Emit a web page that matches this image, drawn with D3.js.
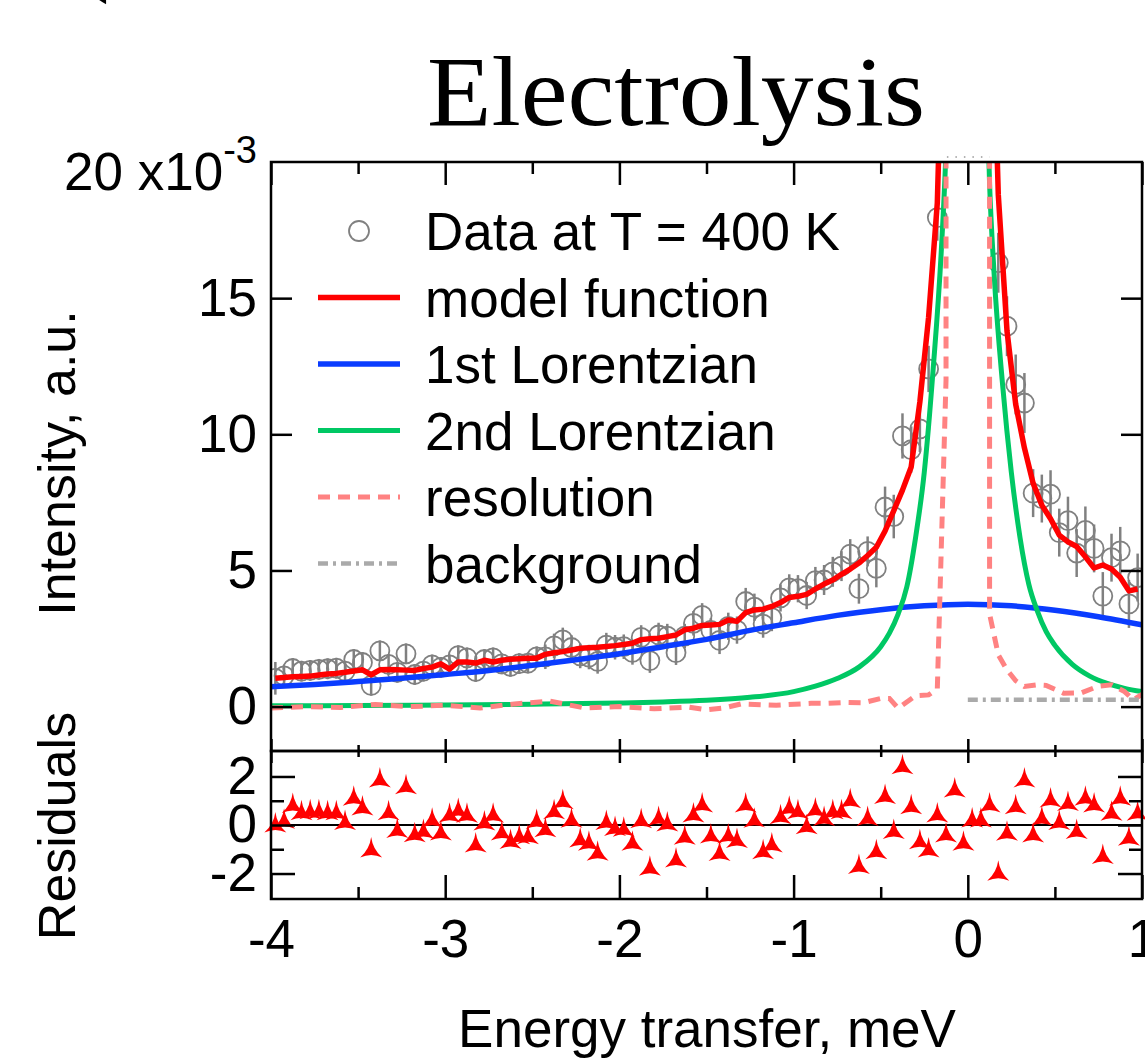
<!DOCTYPE html>
<html><head><meta charset="utf-8">
<script src="https://cdn.jsdelivr.net/npm/d3@7"></script>
<style>body{margin:0;background:#fff;} svg{display:block;}</style>
</head><body>
<svg id="chart" width="1145" height="1061"></svg>
<script>
// ---------- data ----------
const energyX = [
-3.975,-3.925,-3.875,-3.825,-3.775,-3.725,-3.675,-3.625,-3.575,-3.525,
-3.475,-3.425,-3.375,-3.325,-3.275,-3.225,-3.175,-3.125,-3.075,-3.025,
-2.975,-2.925,-2.875,-2.825,-2.775,-2.725,-2.675,-2.625,-2.575,-2.525,
-2.475,-2.425,-2.375,-2.325,-2.275,-2.225,-2.175,-2.125,-2.075,-2.025,
-1.975,-1.925,-1.875,-1.825,-1.775,-1.725,-1.675,-1.625,-1.575,-1.525,
-1.475,-1.425,-1.375,-1.325,-1.275,-1.225,-1.175,-1.125,-1.075,-1.025,
-0.975,-0.925,-0.875,-0.825,-0.775,-0.725,-0.675,-0.625,-0.575,-0.525,
-0.475,-0.425,-0.375,-0.325,-0.275,-0.225,-0.175,-0.125,-0.075,-0.025,
0.025,0.075,0.125,0.175,0.225,0.275,0.325,0.375,0.425,0.475,
0.525,0.575,0.625,0.675,0.725,0.775,0.825,0.875,0.925,0.975];
const intensity = [
1.04,1.13,1.40,1.30,1.33,1.37,1.39,1.41,1.30,1.73,
1.62,0.78,2.05,1.55,1.26,1.94,1.18,1.30,1.53,1.44,
1.53,1.87,1.79,1.29,1.73,1.79,1.57,1.48,1.58,1.60,
1.83,1.83,2.23,2.45,2.17,1.86,1.82,1.66,2.26,2.18,
2.20,1.99,2.54,1.69,2.63,2.59,1.98,2.59,3.06,3.35,
2.80,2.43,2.95,2.81,3.86,3.65,3.03,3.27,3.99,4.36,
4.33,4.08,4.63,4.65,4.95,5.16,5.60,4.33,5.70,5.08,
7.33,6.98,9.94,9.44,10.2,12.4,17.96,29.6,47.2,54.0,
55.3,45.3,31.0,16.3,13.97,11.83,11.15,7.84,7.64,7.80,
6.39,6.83,5.64,6.47,5.81,4.06,5.47,5.72,3.77,4.74];
const intensityErr = [
0.60,0.38,0.38,0.38,0.38,0.38,0.38,0.38,0.38,0.38,
0.38,0.38,0.38,0.38,0.38,0.38,0.38,0.38,0.38,0.38,
0.38,0.38,0.38,0.38,0.38,0.38,0.38,0.38,0.38,0.38,
0.38,0.45,0.45,0.45,0.45,0.45,0.45,0.45,0.45,0.45,
0.45,0.45,0.45,0.45,0.45,0.45,0.45,0.45,0.45,0.45,
0.45,0.50,0.50,0.50,0.50,0.50,0.50,0.50,0.50,0.50,
0.50,0.50,0.50,0.55,0.55,0.55,0.55,0.55,0.55,0.70,
0.75,0.80,0.83,0.85,0.85,0.85,0.85,1.00,1.00,1.00,
1.00,1.00,1.00,1.10,1.10,1.10,1.10,0.88,0.88,0.88,
0.88,0.88,0.88,0.88,0.88,0.88,0.88,0.88,0.88,0.88];
const modelFunction = [
1.04,1.07,1.10,1.11,1.12,1.16,1.20,1.22,1.26,1.31,
1.35,1.17,1.35,1.36,1.35,1.34,1.33,1.40,1.45,1.57,
1.38,1.64,1.64,1.60,1.70,1.64,1.70,1.74,1.76,1.78,
1.78,1.92,1.98,2.02,2.08,2.14,2.16,2.18,2.21,2.24,
2.28,2.33,2.46,2.49,2.51,2.57,2.63,2.82,2.88,2.98,
3.00,3.02,3.18,3.13,3.45,3.55,3.58,3.68,3.82,4.01,
4.05,4.12,4.32,4.50,4.65,4.86,5.05,5.27,5.55,5.85,
6.45,7.20,7.95,8.80,11.2,14.3,18.5,30.0,45.0,55.0,
55.0,45.0,30.0,18.8,13.8,11.1,9.50,8.20,7.40,6.90,
6.30,6.05,5.88,5.50,5.09,5.20,5.05,4.75,4.25,4.32];
const residuals = [
0.0,0.15,0.8,0.5,0.55,0.55,0.5,0.5,0.1,1.1,
0.7,-1.03,1.85,0.5,-0.23,1.58,-0.4,-0.27,0.2,-0.33,
0.4,0.6,0.4,-0.82,0.08,0.4,-0.33,-0.68,-0.48,-0.48,
0.14,-0.2,0.55,0.96,0.2,-0.62,-0.75,-1.16,0.1,-0.14,
-0.18,-0.75,0.18,-1.78,0.27,0.04,-1.44,-0.51,0.41,0.82,
-0.45,-1.17,-0.45,-0.64,0.82,0.2,-1.1,-0.82,0.34,0.69,
0.55,-0.07,0.62,0.27,0.55,0.55,1.0,-1.71,0.27,-1.1,
1.17,-0.27,2.4,0.75,-0.69,-1.03,0.41,-0.41,1.44,-0.75,
0.21,0.21,0.82,-1.99,-0.34,0.75,1.85,-0.41,0.27,1.03,
0.1,0.89,-0.27,1.1,0.82,-1.3,0.48,1.1,-0.55,0.48];
const lor1X = [-4,-3.75,-3.5,-3.25,-3,-2.75,-2.5,-2.25,-2,-1.75,-1.5,-1.25,-1,-0.75,-0.5,-0.25,0,0.25,0.5,0.75,1];
const lor1Y = [0.73,0.81,0.92,1.04,1.18,1.33,1.52,1.72,1.94,2.20,2.47,2.80,3.08,3.35,3.56,3.70,3.76,3.70,3.54,3.30,3.00];
const lor2X = [-4,-3.5,-3,-2.5,-2,-1.75,-1.5,-1.25,-1,-0.875,-0.75,-0.625,-0.5,-0.45,-0.4,-0.35,-0.3,-0.25,-0.2,-0.15,-0.125,-0.1,-0.05,0,0.05,0.1,0.125,0.15,0.2,0.25,0.3,0.35,0.4,0.45,0.5,0.6,0.7,0.8,0.9,1.0];
const lor2Y = [0.03,0.04,0.06,0.09,0.13,0.17,0.23,0.34,0.55,0.75,1.03,1.45,2.2,2.7,3.4,4.4,6.2,8.6,12.3,17,20.5,27,38,42,38,25,19.2,16,11.8,8.6,6.2,4.5,3.5,2.75,2.25,1.55,1.12,0.85,0.67,0.55];
const resX = [-4,-3.8,-3.6,-3.4,-3.2,-3.0,-2.8,-2.6,-2.4,-2.2,-2.0,-1.8,-1.6,-1.5,-1.4,-1.3,-1.1,-0.9,-0.8,-0.7,-0.6,-0.5,-0.45,-0.4,-0.3,-0.225,-0.175,-0.125,-0.124,0.124,0.125,0.175,0.225,0.275,0.325,0.4,0.45,0.55,0.65,0.75,0.825,0.9,0.95,1.0];
const resY = [-0.05,0.0,-0.03,0.08,0.0,0.05,-0.05,0.1,0.2,-0.05,0.0,-0.08,-0.02,-0.12,-0.05,0.1,0.05,0.12,0.12,0.15,0.14,0.3,0.3,-0.06,0.4,0.43,0.65,12.0,400,400,3.4,1.9,1.35,0.95,0.74,0.8,0.78,0.49,0.5,0.75,0.8,0.55,0.25,0.45];
const bgX = [0, 1];
const bgY = [0.25, 0.25];
const xTicks = [-4,-3,-2,-1,0,1];
const xMinor = [-3.5,-2.5,-1.5,-0.5,0.5];
const yTicks = [0,5,10,15];
const resTicks = [-2,0,2];
const resMinor = [-1,1];
const legendLabels = ["Data at T = 400 K","model function","1st Lorentzian","2nd Lorentzian","resolution","background"];

// ---------- layout ----------
const FONT = "'Liberation Sans', Arial, Helvetica, sans-serif";
const SERIF = "'Liberation Serif', 'Times New Roman', serif";
const FS = 53;
const L = 271, R = 1142, T = 162, MB = 751, RB = 899;
const COL = {red:"#ff0000", blue:"#0a3cff", green:"#00c864", pink:"#ff8282", gray:"#aaaaaa", data:"#808080"};

const svg = d3.select("#chart");
const x = d3.scaleLinear().domain([-4, 1]).range([L, R]);
const y = d3.scaleLinear().domain([-1.63, 20]).range([MB, T]);
const yr = d3.scaleLinear().domain([-3.05, 3.05]).range([RB, MB]);

const defs = svg.append("defs");
defs.append("clipPath").attr("id","clipMain").append("rect").attr("x",L).attr("y",T).attr("width",R-L).attr("height",MB-T);
defs.append("clipPath").attr("id","clipRes").append("rect").attr("x",L).attr("y",MB).attr("width",R-L).attr("height",RB-MB);

// title
svg.append("text").attr("x",427).attr("y",125)
  .attr("font-family",SERIF).attr("font-size",100).attr("fill","#000")
  .attr("textLength",498).attr("lengthAdjust","spacingAndGlyphs").text("Electrolysis");
svg.append("text").attr("x",76).attr("y",-17).attr("font-family",SERIF).attr("font-size",100).attr("fill","#000").text("(");

// ---------- main plot ----------
const gMain = svg.append("g").attr("clip-path","url(#clipMain)");
const pts = energyX.map((e,i)=>({x:e, v:intensity[i], err:intensityErr[i]}));
gMain.selectAll("line.err").data(pts).join("line").attr("class","err")
  .attr("x1",d=>x(d.x)).attr("x2",d=>x(d.x))
  .attr("y1",d=>y(d.v-d.err)).attr("y2",d=>y(d.v+d.err))
  .attr("stroke",COL.data).attr("stroke-width",2.5);
gMain.selectAll("circle.pt").data(pts).join("circle").attr("class","pt")
  .attr("cx",d=>x(d.x)).attr("cy",d=>y(d.v)).attr("r",9.5)
  .attr("fill","none").attr("stroke",COL.data).attr("stroke-width",1.8);

const lineLin = d3.line().x(d=>x(d[0])).y(d=>y(d[1]));
const lineSmooth = d3.line().x(d=>x(d[0])).y(d=>y(d[1])).curve(d3.curveMonotoneX);
gMain.append("path").datum(d3.zip(lor1X,lor1Y)).attr("d",lineSmooth)
  .attr("fill","none").attr("stroke",COL.blue).attr("stroke-width",5.5);
gMain.append("path").datum(d3.zip(lor2X,lor2Y)).attr("d",lineSmooth)
  .attr("fill","none").attr("stroke",COL.green).attr("stroke-width",5);
gMain.append("path").datum(d3.zip(energyX,modelFunction)).attr("d",lineLin)
  .attr("fill","none").attr("stroke",COL.red).attr("stroke-width",5.5).attr("stroke-linejoin","round");
gMain.append("path").datum(d3.zip(resX,resY)).attr("d",lineLin)
  .attr("fill","none").attr("stroke",COL.pink).attr("stroke-width",5).attr("stroke-dasharray","12,8");
gMain.append("path").datum(d3.zip(bgX,bgY)).attr("d",lineLin)
  .attr("fill","none").attr("stroke",COL.gray).attr("stroke-width",4.5).attr("stroke-dasharray","10,5,3,5");

// faint dotted trace above the frame near the peak
svg.append("line").attr("x1",x(-0.12)).attr("x2",x(0.125)).attr("y1",T-5).attr("y2",T-5)
  .attr("stroke","#999").attr("stroke-width",1.5).attr("stroke-dasharray","1.5,7");

// ---------- residuals ----------
const gRes = svg.append("g").attr("clip-path","url(#clipRes)");
gRes.append("line").attr("x1",L).attr("x2",R).attr("y1",yr(0)).attr("y2",yr(0))
  .attr("stroke","#000").attr("stroke-width",2.2);
const tri = "M0,-13 Q1.5,-1 11,7.5 Q0,2.5 -11,7.5 Q-1.5,-1 0,-13Z";
svg.append("g").selectAll("path").data(d3.zip(energyX,residuals)).join("path")
  .attr("d",tri).attr("transform",d=>`translate(${x(d[0])},${yr(d[1])})`)
  .attr("fill",COL.red);

// ---------- axes ----------
function styleAxis(g){
  g.select(".domain").remove();
  g.selectAll("line").attr("stroke","#000").attr("stroke-width",2.5);
  g.selectAll("text").attr("font-family",FONT).attr("font-size",FS).attr("fill","#000");
  return g;
}
const fmt = d => String(d);
// main plot
styleAxis(svg.append("g").attr("transform",`translate(${L},0)`)
  .call(d3.axisLeft(y).tickValues(yTicks).tickSizeInner(-21).tickSizeOuter(0).tickPadding(14).tickFormat(fmt)));
styleAxis(svg.append("g").attr("transform",`translate(${R},0)`)
  .call(d3.axisRight(y).tickValues(yTicks).tickSizeInner(-21).tickSizeOuter(0).tickFormat("")));
styleAxis(svg.append("g").attr("transform",`translate(0,${T})`)
  .call(d3.axisTop(x).tickValues(xTicks).tickSizeInner(-23).tickSizeOuter(0).tickFormat("")));
styleAxis(svg.append("g").attr("transform",`translate(0,${T})`)
  .call(d3.axisTop(x).tickValues(xMinor).tickSizeInner(-12).tickSizeOuter(0).tickFormat("")));
styleAxis(svg.append("g").attr("transform",`translate(0,${MB})`)
  .call(d3.axisBottom(x).tickValues(xTicks).tickSizeInner(-12).tickSizeOuter(0).tickFormat("")));
styleAxis(svg.append("g").attr("transform",`translate(0,${MB})`)
  .call(d3.axisBottom(x).tickValues(xMinor).tickSizeInner(-6).tickSizeOuter(0).tickFormat("")));
// residual panel
styleAxis(svg.append("g").attr("transform",`translate(0,${MB})`)
  .call(d3.axisTop(x).tickValues(xTicks).tickSizeInner(-12).tickSizeOuter(0).tickFormat("")));
styleAxis(svg.append("g").attr("transform",`translate(0,${MB})`)
  .call(d3.axisTop(x).tickValues(xMinor).tickSizeInner(-6).tickSizeOuter(0).tickFormat("")));
styleAxis(svg.append("g").attr("transform",`translate(0,${RB})`)
  .call(d3.axisBottom(x).tickValues(xTicks).tickSizeInner(-24).tickSizeOuter(0).tickPadding(20).tickFormat(fmt)));
styleAxis(svg.append("g").attr("transform",`translate(0,${RB})`)
  .call(d3.axisBottom(x).tickValues(xMinor).tickSizeInner(-12).tickSizeOuter(0).tickFormat("")));
styleAxis(svg.append("g").attr("transform",`translate(${L},0)`)
  .call(d3.axisLeft(yr).tickValues(resTicks).tickSizeInner(-24).tickSizeOuter(0).tickPadding(14).tickFormat(fmt)));
styleAxis(svg.append("g").attr("transform",`translate(${L},0)`)
  .call(d3.axisLeft(yr).tickValues(resMinor).tickSizeInner(-13).tickSizeOuter(0).tickFormat("")));
styleAxis(svg.append("g").attr("transform",`translate(${R},0)`)
  .call(d3.axisRight(yr).tickValues(resTicks).tickSizeInner(-24).tickSizeOuter(0).tickFormat("")));
styleAxis(svg.append("g").attr("transform",`translate(${R},0)`)
  .call(d3.axisRight(yr).tickValues(resMinor).tickSizeInner(-13).tickSizeOuter(0).tickFormat("")));

// frames
svg.append("rect").attr("x",L).attr("y",T).attr("width",R-L).attr("height",MB-T)
  .attr("fill","none").attr("stroke","#000").attr("stroke-width",2.5);
svg.append("rect").attr("x",L).attr("y",MB).attr("width",R-L).attr("height",RB-MB)
  .attr("fill","none").attr("stroke","#000").attr("stroke-width",2.5);

// top label "20 x10^-3"
const top20 = svg.append("text").attr("x",L-14).attr("y",y(20)+28).attr("text-anchor","end")
  .attr("font-family",FONT).attr("font-size",FS).attr("fill","#000");
top20.append("tspan").text("20 x10");
top20.append("tspan").attr("dy",-27).attr("font-size",38).text("-3");

// axis titles
svg.append("text").attr("x",707).attr("y",1047).attr("text-anchor","middle")
  .attr("font-family",FONT).attr("font-size",FS).attr("fill","#000").text("Energy transfer, meV");
svg.append("text").attr("transform",`translate(75,${463}) rotate(-90)`).attr("text-anchor","middle")
  .attr("font-family",FONT).attr("font-size",52).attr("fill","#000").text("Intensity, a.u.");
svg.append("text").attr("transform",`translate(75,${826}) rotate(-90)`).attr("text-anchor","middle")
  .attr("font-family",FONT).attr("font-size",52).attr("fill","#000").text("Residuals");

// ---------- legend ----------
const lg = svg.append("g");
const LY0 = 231, LDY = 66.5, LX1 = 318, LX2 = 400, LTX = 425;
legendLabels.forEach((lab,i)=>{
  const cy = LY0 + i*LDY;
  if(i===0){
    lg.append("circle").attr("cx",(LX1+LX2)/2).attr("cy",cy).attr("r",10)
      .attr("fill","none").attr("stroke",COL.data).attr("stroke-width",1.8);
  } else {
    const st = [null,{c:COL.red,d:null,w:5.5},{c:COL.blue,d:null,w:5.5},{c:COL.green,d:null,w:5},{c:COL.pink,d:"12,8",w:5},{c:COL.gray,d:"10,5,3,5",w:4.5}][i];
    lg.append("line").attr("x1",LX1).attr("x2",LX2).attr("y1",cy).attr("y2",cy)
      .attr("stroke",st.c).attr("stroke-width",st.w).attr("stroke-dasharray",st.d);
  }
  lg.append("text").attr("x",LTX).attr("y",cy+19).attr("font-family",FONT).attr("font-size",FS)
    .attr("fill","#000").text(lab);
});
</script>
</body></html>
